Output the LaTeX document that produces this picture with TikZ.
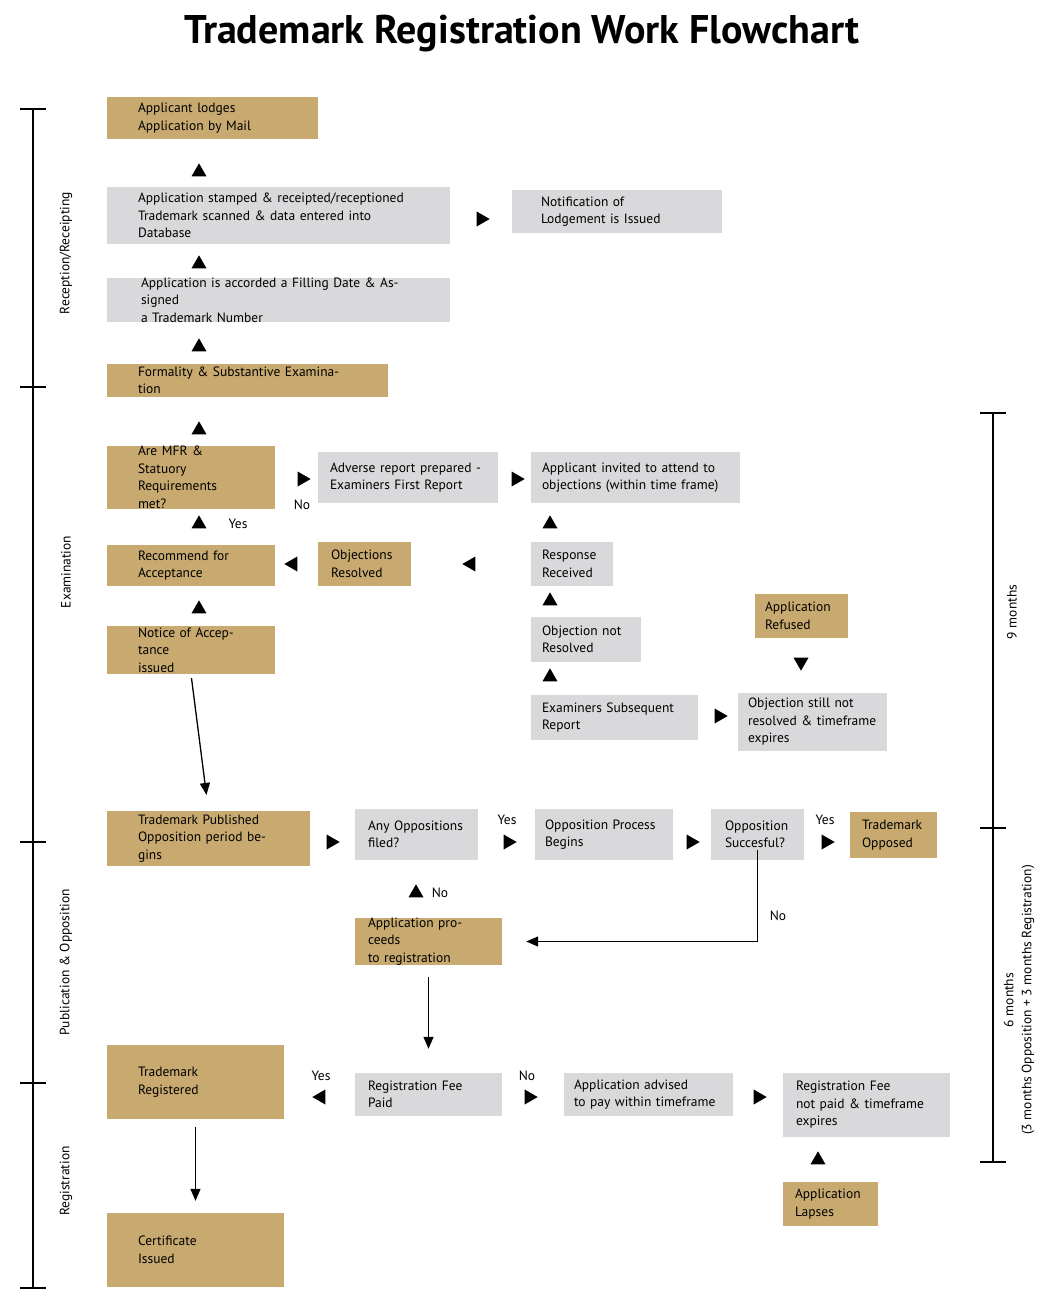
\documentclass[tikz,border=0pt]{standalone}
\usepackage{fontspec}
\setmainfont{PT Sans}
\usetikzlibrary{shapes.geometric,arrows.meta}
\definecolor{gold}{RGB}{200,170,112}
\definecolor{gry}{RGB}{217,217,219}
\newcommand\bx[8]{%
  \pgfmathsetmacro\bw{#5-#3}\pgfmathsetmacro\bh{#6-#4}\pgfmathsetmacro\tw{#5-#3-2*(#7-#3)}%
  \node[box,fill=#2,minimum width=\bw pt,minimum height=\bh pt,text width=\tw pt] (#1) at ({(#3+#5)/2},{(#4+#6)/2}) {#8};}
\begin{document}
\begin{tikzpicture}[x=1pt,y=-1pt,
  box/.style={rectangle,inner sep=0pt,align=left,font=\fontsize{13.5}{17.5}\selectfont},
  tri/.style={isosceles triangle,isosceles triangle stretches,fill=black,inner sep=0pt,minimum height=13pt,minimum width=15pt,shape border rotate=#1},
  lbl/.style={font=\fontsize{13.5}{16}\selectfont,inner sep=0pt},
  con/.style={line width=1.3pt,-{Triangle[length=12pt,width=10pt]}},
  tl/.style={line width=1.2pt}]
\useasboundingbox (0,0) rectangle (1060,1314);
\node[font=\fontsize{40}{44}\selectfont\bfseries] (title) at (522,34) {Trademark Registration Work Flowchart};
\bx{b1}{gold}{107}{97}{318}{139}{138}{Applicant lodges\\Application by Mail}
\bx{b2}{gry}{107}{187}{450}{244}{138}{Application stamped \& receipted/receptioned\\Trademark scanned \& data entered into\\Database}
\bx{b3}{gry}{512}{190}{722}{233}{541}{Notification of\\Lodgement is Issued}
\bx{b4}{gry}{107}{280}{450}{320}{141}{Application is accorded a Filling Date \& Assigned\\a Trademark Number}
\bx{b5}{gold}{107}{364}{388}{397}{138}{Formality \& Substantive Examination}
\bx{b6}{gold}{107}{452}{275}{503}{138}{Are MFR \& Statuory\\Requirements met?}
\bx{b7}{gry}{318}{452}{498}{503}{330}{Adverse report prepared -\\Examiners First Report}
\bx{b8}{gry}{531}{452}{740}{503}{542}{Applicant invited to attend to\\objections (within time frame)}
\bx{b9}{gold}{107}{545}{275}{586}{138}{Recommend for\\Acceptance}
\bx{b10}{gold}{318}{542}{411}{586}{331}{Objections\\Resolved}
\bx{b11}{gry}{531}{542}{613}{586}{542}{Response\\Received}
\bx{b12}{gry}{531}{617}{641}{662}{542}{Objection not\\Resolved}
\bx{b13}{gold}{107}{626}{275}{674}{138}{Notice of Acceptance\\issued}
\bx{b14}{gold}{755}{594}{848}{638}{765}{Application\\Refused}
\bx{b15}{gry}{531}{695}{698}{740}{542}{Examiners Subsequent\\Report}
\bx{b16}{gry}{738}{693}{887}{751}{748}{Objection still not\\resolved \& timeframe\\expires}
\bx{b17}{gold}{107}{811}{310}{866}{138}{Trademark Published\\Opposition period begins}
\bx{b18}{gry}{355}{809}{478}{860}{368}{Any Oppositions\\filed?}
\bx{b19}{gry}{535}{809}{673}{860}{545}{Opposition Process\\Begins}
\bx{b20}{gry}{711}{809}{804}{860}{725}{Opposition\\Succesful?}
\bx{b21}{gold}{850}{812}{937}{858}{862}{Trademark\\Opposed}
\bx{b22}{gold}{355}{920}{502}{963}{368}{Application proceeds\\to registration}
\bx{b23}{gold}{107}{1045}{284}{1119}{138}{Trademark\\Registered}
\bx{b24}{gry}{355}{1073}{502}{1116}{368}{Registration Fee\\Paid}
\bx{b25}{gry}{564}{1073}{733}{1116}{574}{Application advised\\to pay within timeframe}
\bx{b26}{gry}{783}{1073}{950}{1137}{796}{Registration Fee\\not paid \& timeframe\\expires}
\bx{b27}{gold}{783}{1182}{878}{1226}{795}{Application\\Lapses}
\bx{b28}{gold}{107}{1213}{284}{1287}{138}{Certificate\\Issued}
% triangles (y axis flipped: down = 90, up = -90)
\foreach \n/\x/\y/\r in {t1/199/172/90,t2/199/264/90,t3/199/347/90,t4/199/430/90,t5/481/219/0,t6/302/479/0,t7/516/479/0,t8/199/524/90,t9/550/524/90,t10/293/564/180,t11/471/564/180,t12/550/601/90,t13/199/609/90,t14/550/677/90,t15/801/662/-90,t16/719/716/0,t17/331/842/0,t18/508/842/0,t19/691/842/0,t20/826/842/0,t21/416/893/90,t22/321/1097/180,t23/529/1097/0,t24/758/1097/0,t25/818/1160/90}
  \node[tri=\r] (\n) at (\x,\y) {};
\node[lbl] (l1) at (302,505) {No};
\node[lbl] (l2) at (238,524) {Yes};
\node[lbl] (l3) at (507,820) {Yes};
\node[lbl] (l4) at (825,820) {Yes};
\node[lbl] (l5) at (440,893) {No};
\node[lbl] (l6) at (778,916) {No};
\node[lbl] (l7) at (321,1076) {Yes};
\node[lbl] (l8) at (527,1076) {No};
% connectors
\draw[con,shorten <=4pt,shorten >=16pt] (b13.south) -- (b17.north);
\draw[con,shorten >=24pt] ([yshift=10pt]b20.south) |- (b22.east);
\draw[con,shorten <=12pt,shorten >=24pt] (b22.south) -- (b24.north);
\draw[con,shorten <=8pt,shorten >=12pt] (b23.south) -- (b28.north);
% left timeline
\draw[tl] (33,109) -- (33,1288);
\foreach \y in {109,387,842,1083,1288} \draw[tl] (20,\y) -- (46,\y);
\node[lbl,rotate=90] (s1) at (66,253) {Reception/Receipting};
\node[lbl,rotate=90] (s2) at (66,572) {Examination};
\node[lbl,rotate=90] (s3) at (66,962) {Publication \& Opposition};
\node[lbl,rotate=90] (s4) at (66,1181) {Registration};
% right timeline
\draw[tl] (993,413) -- (993,1162);
\foreach \y in {413,828,1162} \draw[tl] (980,\y) -- (1006,\y);
\node[lbl,rotate=90] (r1) at (1012,612) {9 months};
\node[lbl,rotate=90,align=center,font=\fontsize{13.5}{18}\selectfont] (r2) at (1019,1000) {6 months\\(3 months Opposition + 3 months Registration)};
\end{tikzpicture}
\end{document}
